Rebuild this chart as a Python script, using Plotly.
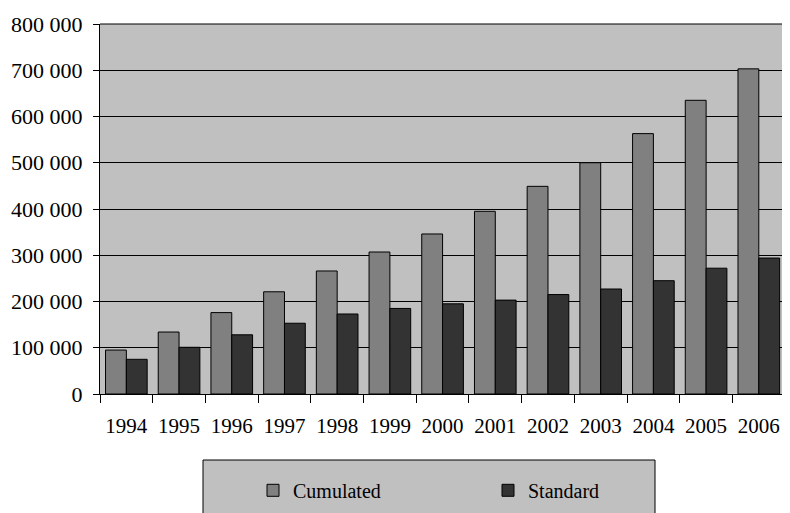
import plotly.graph_objects as go

years = ["1994", "1995", "1996", "1997", "1998", "1999", "2000",
         "2001", "2002", "2003", "2004", "2005", "2006"]
cumulated = [95000, 134000, 176000, 221000, 266000, 307000, 346000,
             395000, 449000, 500000, 563000, 635000, 703000]
standard = [75000, 101000, 128000, 153000, 173000, 185000, 195000,
            203000, 215000, 227000, 245000, 272000, 294000]
y_ticks = [0, 100000, 200000, 300000, 400000, 500000, 600000, 700000, 800000]

FONT = "Liberation Serif, Times New Roman, serif"
PW = 682.0  # plot-area width in px
PH = 370.0  # plot-area height in px

fig = go.Figure()
fig.add_trace(go.Bar(x=years, y=cumulated, name="Cumulated",
                     marker=dict(color="#808080", line=dict(color="black", width=1))))
fig.add_trace(go.Bar(x=years, y=standard, name="Standard",
                     marker=dict(color="#333333", line=dict(color="black", width=1))))

fig.update_layout(
    width=774, height=505,
    margin=dict(l=92, r=0, t=16, b=119, autoexpand=False),
    paper_bgcolor="white",
    plot_bgcolor="#C0C0C0",
    barmode="group", bargap=0.21, bargroupgap=0,
    separators=". ",
    font=dict(family=FONT, size=21, color="black"),
    showlegend=True,
    legend=dict(orientation="h", x=153 / PW, xanchor="left", y=-0.2076, yanchor="top",
                bgcolor="rgba(0,0,0,0)", entrywidth=190, entrywidthmode="pixels",
                font=dict(family=FONT, size=20)),
    shapes=[dict(type="rect", xref="paper", yref="paper",
                 x0=103 / PW, x1=555 / PW,
                 y0=-126 / PH, y1=-66 / PH,
                 fillcolor="#C0C0C0", line=dict(color="black", width=1), layer="below")],
)
fig.update_xaxes(
    type="category", range=[-0.5, 12.44],
    showline=True, linecolor="black", linewidth=1,
    ticks="outside", tickson="boundaries", ticklen=8, tickcolor="black",
    showgrid=False, ticklabelstandoff=13, tickangle=0, automargin=False,
    tickfont=dict(size=21),
)
fig.update_yaxes(
    range=[0, 800000], tickvals=y_ticks, tickformat=",d",
    showline=True, linecolor="black", linewidth=1,
    ticks="outside", ticklen=6, tickcolor="black",
    showgrid=True, gridcolor="black", gridwidth=1,
    zeroline=False, ticklabelstandoff=6, automargin=False,
    tickfont=dict(size=22),
)
fig.add_shape(type="line", xref="paper", yref="paper", x0=0, x1=1, y0=1, y1=1,
              line=dict(color="black", width=1))

fig.write_html("out.html")
